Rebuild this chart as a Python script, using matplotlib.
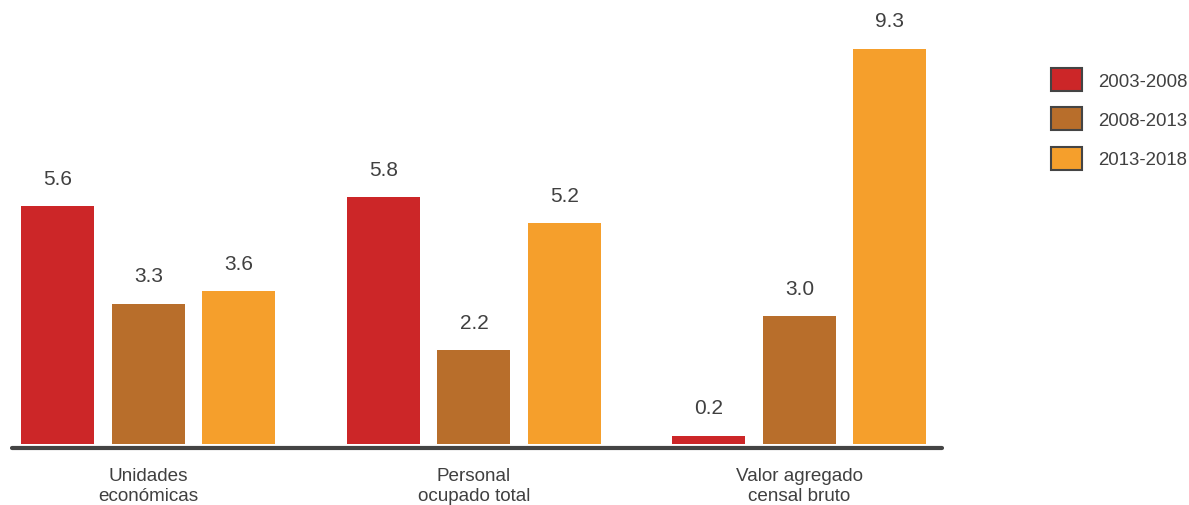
import matplotlib.pyplot as plt
import numpy as np
from matplotlib.patches import Patch

plt.rcParams['font.family'] = ['Liberation Sans', 'DejaVu Sans']

categorias = ["Unidades\neconómicas", "Personal\nocupado total", "Valor agregado\ncensal bruto"]
periodos = ["2003-2008", "2008-2013", "2013-2018"]
p2003_2008 = [5.6, 5.8, 0.2]
p2008_2013 = [3.3, 2.2, 3.0]
p2013_2018 = [3.6, 5.2, 9.3]
series = [p2003_2008, p2008_2013, p2013_2018]
colores = ["#CC2628", "#B86E2B", "#F59F2C"]

W, H = 1189, 506
fig = plt.figure(figsize=(W / 100, H / 100), dpi=100)
# axes spans from the baseline line up to the top of the picture
ax = fig.add_axes([12 / W, (H - 449) / H, 930 / W, 449 / H])

x = np.arange(len(categorias))
ancho = 0.224
paso = 0.278
txt = "#404040"
for k, (vals, col, lab) in enumerate(zip(series, colores, periodos)):
    pos = x + (k - 1) * paso
    ax.bar(pos, vals, width=ancho, color=col, label=lab, zorder=2)
    for xp, v in zip(pos, vals):
        ax.text(xp, v + 0.43, f"{v:.1f}", ha="center", va="bottom",
                fontsize=15, color=txt)

ax.set_xlim(-0.419, 2.438)
ax.set_ylim(-0.094, 10.47)
ax.plot([-0.419, 2.438], [-0.094, -0.094], color="#444444", lw=3,
        solid_capstyle="round", clip_on=False, zorder=3)
for s in ax.spines.values():
    s.set_visible(False)
ax.set_yticks([])
ax.set_xticks(x)
ax.set_xticklabels(categorias, fontsize=13.6, color=txt, linespacing=1.2)
ax.tick_params(axis="x", length=0, pad=14)

handles = [Patch(facecolor=c, edgecolor="#444444", linewidth=1.5) for c in colores]
fig.legend(handles, periodos, loc="upper left",
           bbox_to_anchor=(1051 / W, 1 - 69 / H), bbox_transform=fig.transFigure,
           frameon=False, fontsize=13.4, handlelength=1.65, handleheight=1.53,
           labelspacing=0.87, handletextpad=0.86, borderpad=0, borderaxespad=0,
           labelcolor=txt)

fig.savefig("out.png", dpi=100)
